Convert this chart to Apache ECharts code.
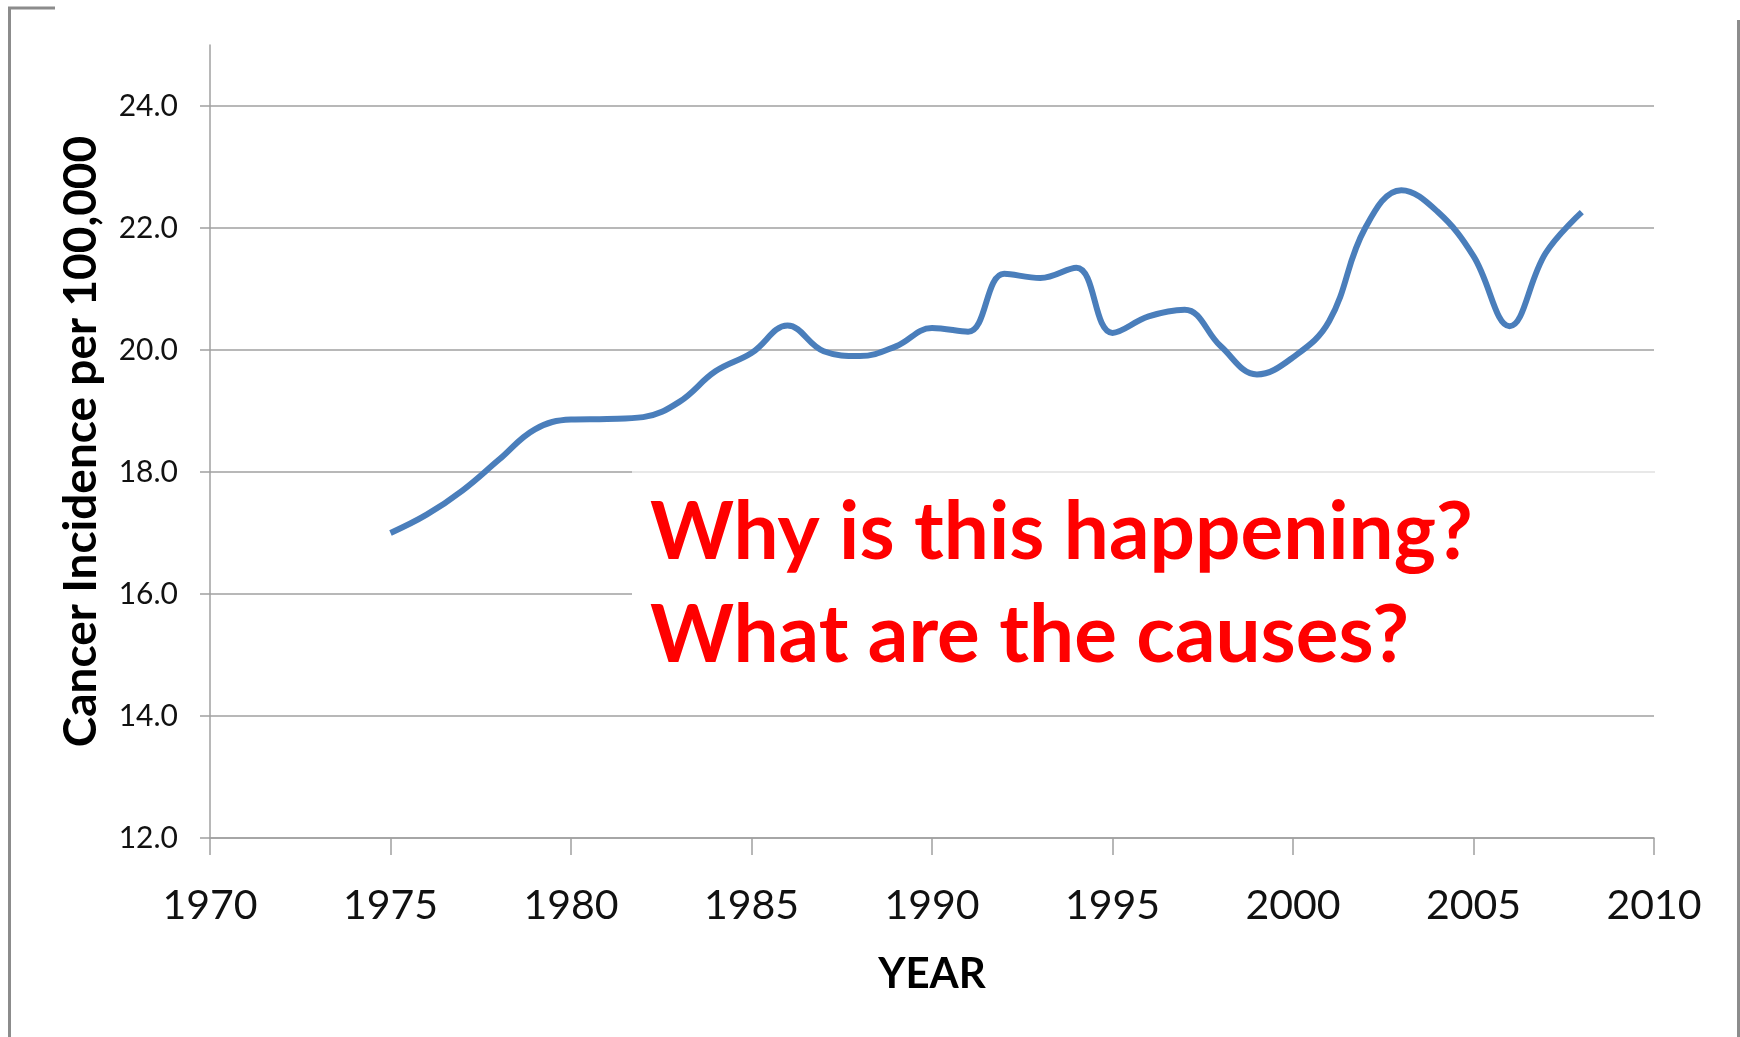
<!DOCTYPE html>
<html>
<head>
<meta charset="utf-8">
<script src="https://cdn.jsdelivr.net/npm/echarts@6/dist/echarts.min.js"></script>
<style>
  html, body { margin: 0; padding: 0; background: #fff; }
  #chart { width: 1740px; height: 1037px; }
</style>
</head>
<body>
<div id="chart"></div>
<script>
// data
const years = [1975, 1976, 1977, 1978, 1979, 1980, 1981, 1982, 1983, 1984,
  1985, 1986, 1987, 1988, 1989, 1990, 1991, 1992, 1993, 1994,
  1995, 1996, 1997, 1998, 1999, 2000, 2001, 2002, 2003, 2004,
  2005, 2006, 2007, 2008];
const incidence = [17.0, 17.3, 17.7, 18.2, 18.7, 18.86, 18.87, 18.9, 19.15, 19.65,
  19.95, 20.4, 19.98, 19.9, 20.06, 20.36, 20.3, 21.25, 21.18, 21.35,
  20.28, 20.55, 20.66, 20.06, 19.6, 19.88, 20.47, 22.0, 22.62, 22.27,
  21.54, 20.39, 21.59, 22.26];
const yTicks = [12, 14, 16, 18, 20, 22, 24];
const xTicks = [1970, 1975, 1980, 1985, 1990, 1995, 2000, 2005, 2010];
const question = ['Why is this happening?', 'What are the causes?'];

const font = 'Lato';
const gridColor = '#a0a0a0';

const chart = echarts.init(document.getElementById('chart'));

const option = {
  animation: false,
  backgroundColor: '#fff',
  grid: { left: 210, right: 86, top: 45, bottom: 199 },
  xAxis: {
    type: 'value',
    min: 1970,
    max: 2010,
    interval: 5,
    name: 'YEAR',
    nameLocation: 'middle',
    nameGap: 115,
    nameTextStyle: { fontFamily: font, fontSize: 42, fontWeight: 'bold', color: '#000' },
    axisLine: { lineStyle: { color: gridColor, width: 1.5 } },
    axisTick: { show: true, length: 17, lineStyle: { color: gridColor, width: 1.5 }, customValues: xTicks },
    axisLabel: {
      fontFamily: font, fontSize: 41, color: '#111', margin: 47,
      customValues: xTicks,
      formatter: v => String(v)
    },
    splitLine: { show: false }
  },
  yAxis: {
    type: 'value',
    min: 12,
    max: 25,
    interval: 2,
    name: 'Cancer Incidence per 100,000',
    nameLocation: 'middle',
    nameRotate: 90,
    nameGap: 106,
    nameTextStyle: { fontFamily: font, fontSize: 46, fontWeight: 'bold', color: '#000' },
    axisLine: { show: true, lineStyle: { color: gridColor, width: 1.5 } },
    axisTick: { show: true, length: 10, lineStyle: { color: gridColor, width: 1.5 }, customValues: yTicks },
    axisLabel: {
      fontFamily: font, fontSize: 30, color: '#111', margin: 32,
      customValues: yTicks,
      formatter: v => v.toFixed(1)
    },
    splitLine: { show: true, lineStyle: { color: gridColor, width: 1.5 } }
  },
  series: [{
    type: 'line',
    data: years.map((y, i) => [y, incidence[i]]),
    smooth: 0.4,
    showSymbol: false,
    lineStyle: { color: '#4a7ebb', width: 6 },
    z: 5
  }],
  graphic: [
    // white box behind the question, hiding gridlines
    { type: 'rect', shape: { x: 632, y: 470, width: 1030, height: 230 }, style: { fill: '#fff' }, z: 3 },
    { type: 'line', shape: { x1: 632, y1: 472, x2: 1655, y2: 472 }, style: { stroke: '#e0e0e0', lineWidth: 1.5 }, z: 3 },
    {
      type: 'text', left: 650, top: 482, z: 4,
      style: {
        text: question.join('\n'),
        font: 'bold 80px Lato',
        fill: '#ff0000',
        lineHeight: 103
      }
    },
    // frame edges
    { type: 'polyline', shape: { points: [[55, 8], [9.5, 8], [9.5, 1037]] }, style: { stroke: '#8c8c8c', lineWidth: 3, fill: null }, z: 3 },
    { type: 'line', shape: { x1: 1738.5, y1: 20, x2: 1738.5, y2: 1037 }, style: { stroke: '#8c8c8c', lineWidth: 3 }, z: 3 }
  ]
};

chart.setOption(option);
window.addEventListener('resize', () => chart.resize());
</script>
</body>
</html>
